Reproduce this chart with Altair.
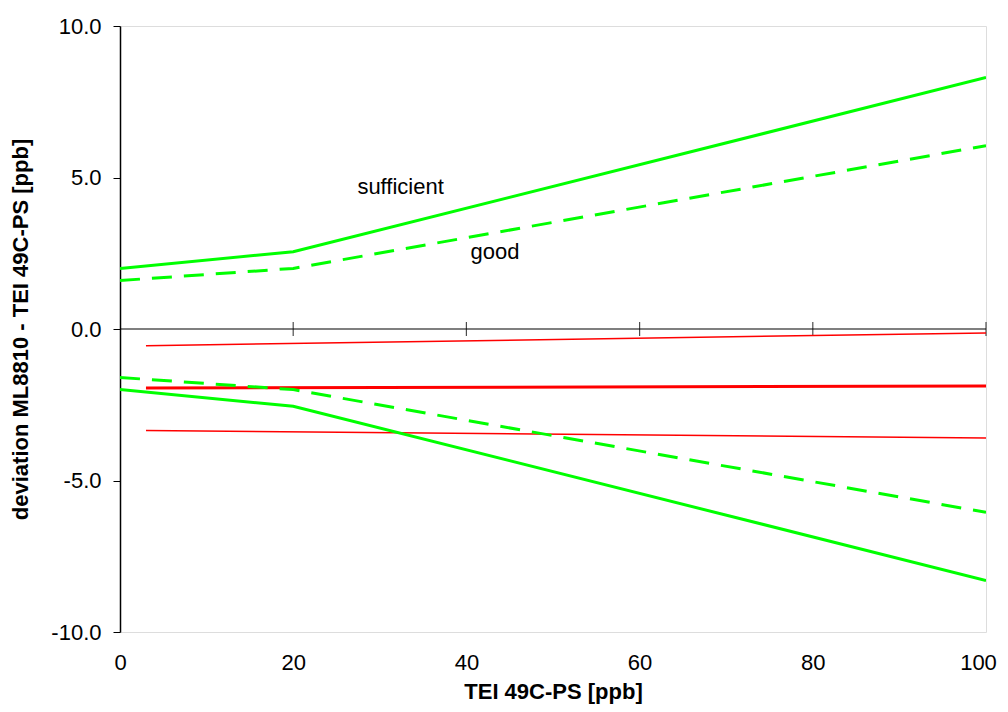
import altair as alt
import pandas as pd

FONT = "Liberation Sans"
FS = 22

# data
x_limits = [0, 20, 100]
sufficient_pos = [2.0, 2.55, 8.3]
good_pos = [1.6, 2.0, 6.05]
sufficient_neg = [-2.0, -2.55, -8.3]
good_neg = [-1.6, -2.0, -6.05]

x_fit = [3, 100]
fit_mid = [-1.95, -1.88]
fit_upper = [-0.55, -0.13]
fit_lower = [-3.35, -3.6]

x_ticks = [0, 20, 40, 60, 80, 100]
y_ticks = [-10, -5, 0, 5, 10]

labels = ["sufficient", "good"]
label_x = [32.4, 43.3]
label_y = [4.45, 2.3]

xs = alt.Scale(domain=[0, 100], nice=False, zero=False)
ys = alt.Scale(domain=[-10, 10], nice=False)

x_axis = alt.Axis(values=x_ticks, title="TEI 49C-PS [ppb]", domain=False, ticks=False,
                  grid=False, labelPadding=20, labelFontSize=FS, labelFont=FONT,
                  labelColor="black", labelOverlap=False, labelBound=False, labelFlush=False,
                  labelOffset={"condition": {"test": "datum.value == 100", "value": -8},
                               "value": 0},
                  titleFont=FONT, titleFontSize=FS, titleFontWeight="bold",
                  titleColor="black", titlePadding=8)
y_axis = alt.Axis(values=y_ticks,
                  labelExpr="datum.value < 0 ? '-' + format(-datum.value, '.1f') : format(datum.value, '.1f')",
                  title="deviation ML8810 - TEI 49C-PS [ppb]",
                  domain=True, domainColor="black", domainWidth=1.5, ticks=True,
                  tickColor="black", tickSize=7, grid=False, labelPadding=12,
                  labelFontSize=FS, labelFont=FONT, labelColor="black",
                  titleFont=FONT, titleFontSize=FS, titleFontWeight="bold",
                  titleColor="black", titlePadding=18)


def line(xv, yv, color, width, dash=None):
    df = pd.DataFrame({"x": xv, "y": yv})
    kw = dict(color=color, strokeWidth=width, clip=True)
    if dash:
        kw["strokeDash"] = dash
    return alt.Chart(df).mark_line(**kw).encode(
        x=alt.X("x:Q", scale=xs, axis=x_axis),
        y=alt.Y("y:Q", scale=ys, axis=y_axis),
    )


zero_df = pd.DataFrame({"y": [0]})
zero_line = alt.Chart(zero_df).mark_rule(color="black", strokeWidth=1.2).encode(
    y=alt.Y("y:Q", scale=ys, axis=y_axis)
)
tick_df = pd.DataFrame({"x": x_ticks[1:], "y": [0] * (len(x_ticks) - 1)})
zero_ticks = alt.Chart(tick_df).mark_tick(orient="vertical", size=14, thickness=1.2,
                                          color="black").encode(
    x=alt.X("x:Q", scale=xs, axis=x_axis),
    y=alt.Y("y:Q", scale=ys, axis=y_axis),
)

GREEN = "#00ff00"
RED = "#ff0000"
layers = [
    zero_line,
    zero_ticks,
    line(x_fit, fit_upper, RED, 1.5),
    line(x_fit, fit_lower, RED, 1.5),
    line(x_fit, fit_mid, RED, 3),
    line(x_limits, sufficient_pos, GREEN, 3),
    line(x_limits, good_pos, GREEN, 3, [20, 12]),
    line(x_limits, sufficient_neg, GREEN, 3),
    line(x_limits, good_neg, GREEN, 3, [20, 12]),
]

lab_df = pd.DataFrame({"x": label_x, "y": label_y, "t": labels})
text = alt.Chart(lab_df).mark_text(font=FONT, fontSize=FS, color="black",
                                   align="center", baseline="alphabetic").encode(
    x=alt.X("x:Q", scale=xs, axis=x_axis),
    y=alt.Y("y:Q", scale=ys, axis=y_axis),
    text="t:N",
)
layers.append(text)

chart = alt.layer(*layers).properties(
    width=866, height=606,
    autosize=alt.AutoSizeParams(type="none"),
    padding={"left": 112, "top": 18, "right": 14, "bottom": 72},
).configure_view(stroke="#888888", strokeWidth=1.5).configure(background="white")

chart.save("out.html", embed_options={"renderer": "svg", "actions": False})
